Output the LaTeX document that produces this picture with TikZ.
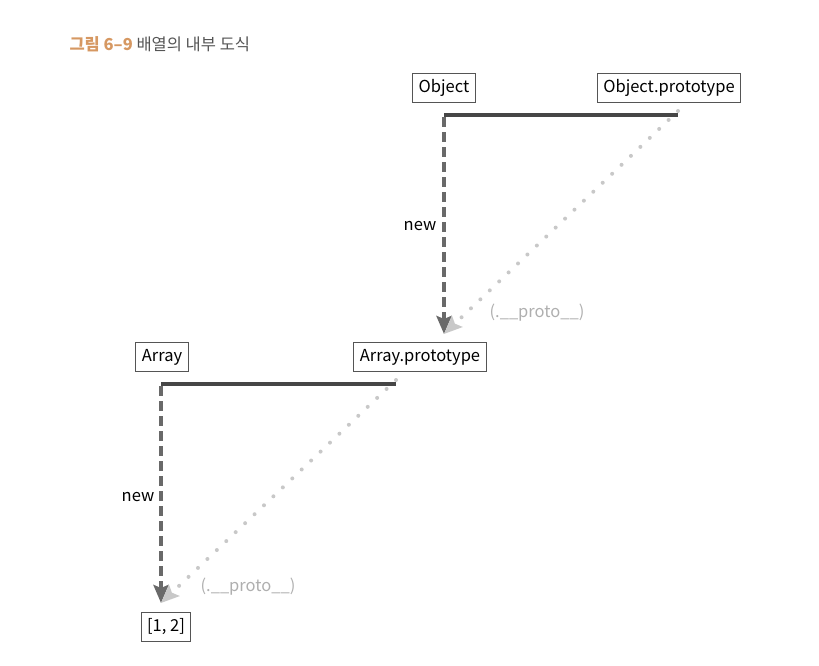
\documentclass[tikz,border=0pt]{standalone}
\usepackage{fontspec}
\setmainfont{Noto Sans CJK KR}
\usepackage{tikz}
\usetikzlibrary{arrows.meta}
\usetikzlibrary{positioning}
\definecolor{titleorange}{RGB}{214,152,98}
\definecolor{titlegray}{RGB}{85,85,85}
\definecolor{barcol}{RGB}{70,70,70}
\definecolor{newcol}{RGB}{105,105,105}
\definecolor{protocol}{RGB}{200,200,200}
\definecolor{prototext}{RGB}{175,175,175}

\begin{document}
\begin{tikzpicture}[x=1pt, y=-1pt,
    objbox/.style={draw=titlegray, line width=0.9pt, minimum height=29pt, inner xsep=6pt, font=\fontsize{16.5}{18}\selectfont, text=black},
    bar/.style={barcol, line width=4pt},
    newarrow/.style={newcol, line width=4pt, dash pattern=on 10pt off 5pt, -{Stealth[length=18pt, width=15pt, inset=3pt]}},
    protoarrow/.style={protocol, line width=4pt, line cap=round, dash pattern=on 0pt off 13pt, -{Stealth[length=18pt, width=15pt, inset=3pt, line cap=butt]}},
    lbl/.style={font=\fontsize{16.5}{18}\selectfont},
    protolbl/.style={font=\fontsize{16.5}{18}\selectfont, text=prototext}]
    \useasboundingbox (0,0) rectangle (819,665);
    % title
    \node[anchor=west, font=\fontsize{16.5}{18}\selectfont] (title) at (66,44)
        {\textcolor{titleorange}{\bfseries 그림 6–9}\ \textcolor{titlegray}{배열의 내부 도식}};
    % Object
    \node[objbox] (obj) at (444,88) {Object};
    \node[objbox] (objproto) at (669,88) {Object.prototype};
    \coordinate (objbar) at (444,115);
    \coordinate (objbarend) at (678,115);
    \draw[bar] (objbar) -- (objbarend);
    \coordinate (objnew) at (444,334);
    \draw[newarrow] ([yshift=-2pt]objbar) -- (objnew);
    \node[lbl] (objnewlbl) at (420,226) {new};
    \draw[protoarrow] ([yshift=4pt]objbarend) -- (objnew);
    \node[protolbl] (objprotolbl) at (537,313) {(.\_\_proto\_\_)};
    % Array
    \node[objbox] (arr) at (162,357) {Array};
    \node[objbox] (arrproto) at (420,357) {Array.prototype};
    \coordinate (arrbar) at (161,384);
    \coordinate (arrbarend) at (396,384);
    \draw[bar] (arrbar) -- (arrbarend);
    \coordinate (arrnew) at (161,603);
    \draw[newarrow] ([yshift=-2pt]arrbar) -- (arrnew);
    \node[lbl] (arrnewlbl) at (138,497) {new};
    \draw[protoarrow] ([yshift=4pt]arrbarend) -- (arrnew);
    \node[protolbl] (arrprotolbl) at (248,587) {(.\_\_proto\_\_)};
    % instance
    \node[objbox] (inst) at (166,627) {[1, 2]};
\end{tikzpicture}
\end{document}
